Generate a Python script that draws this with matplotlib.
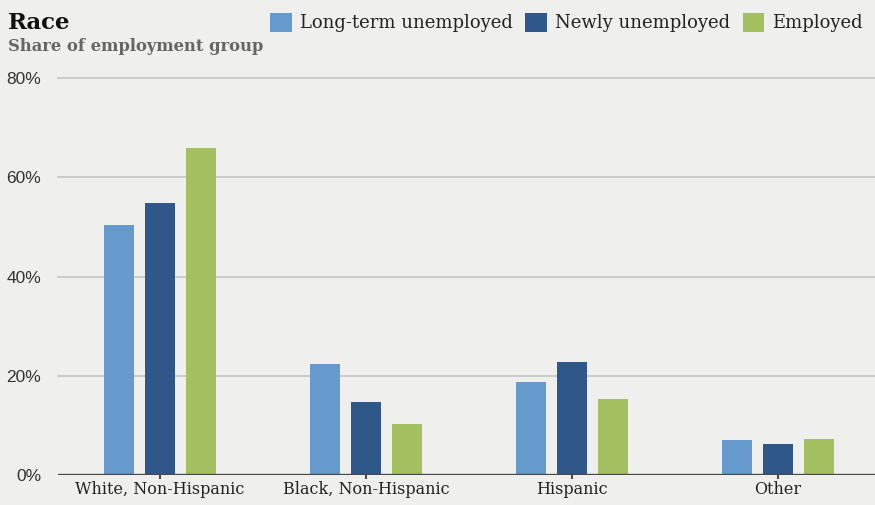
import matplotlib
matplotlib.use("Agg")
import matplotlib.pyplot as plt
import numpy as np
from matplotlib.patches import Patch

categories = ["White, Non-Hispanic", "Black, Non-Hispanic", "Hispanic", "Other"]
series_names = ["Long-term unemployed", "Newly unemployed", "Employed"]
long_term = [50.3, 22.4, 18.7, 7.0]
newly = [54.8, 14.7, 22.7, 6.2]
employed = [65.9, 10.3, 15.3, 7.2]
yticks = [0, 20, 40, 60, 80]

colors = ["#6699cc", "#30578a", "#a3bf5f"]
bg = "#eff0ee"

fig = plt.figure(figsize=(8.75, 5.05), dpi=100, facecolor=bg)
ax = fig.add_axes([0.0663, 0.0594, 0.9337, 0.7861], facecolor=bg)

x = np.arange(len(categories))
width = 0.146
step = 0.2
for i, (vals, c) in enumerate(zip([long_term, newly, employed], colors)):
    ax.bar(x + (i - 1) * step, vals, width, color=c, zorder=3)

ax.set_xlim(-0.495, 3.47)
ax.set_ylim(0, 80)
for t in yticks[1:]:
    ax.axhline(t, color="#c8c9c8", lw=1.3, zorder=1, clip_on=False)
ax.axhline(0, color="#4a4a4a", lw=2.4, zorder=4)

for s in ax.spines.values():
    s.set_visible(False)

ax.set_yticks(yticks)
ax.set_yticklabels([f"{t}%" for t in yticks], fontsize=12.5, family="Liberation Sans", color="#333333")
ax.tick_params(axis="y", length=0, pad=12)
ax.set_xticks(x)
ax.set_xticklabels(categories, fontsize=11.5, family="DejaVu Serif", color="#222222")
ax.tick_params(axis="x", length=6, width=1.5, color="#4a4a4a", direction="inout", pad=1)

fig.text(0.009, 0.955, "Race", fontsize=16.5, fontweight="bold", family="DejaVu Serif", color="#111111", va="center")
fig.text(0.009, 0.908, "Share of employment group", fontsize=11.8, fontweight="bold", family="DejaVu Serif", color="#666666", va="center")

handles = [Patch(facecolor=c, edgecolor="none") for c in colors]
fig.legend(handles, series_names, loc="center right", bbox_to_anchor=(1.005, 0.955), ncol=3, frameon=False,
           prop={"family": "DejaVu Serif", "size": 13}, handlelength=1.2, handleheight=1.2,
           handletextpad=0.45, columnspacing=0.7, labelcolor="#222222")

fig.savefig("out.png", dpi=100, facecolor=bg)
